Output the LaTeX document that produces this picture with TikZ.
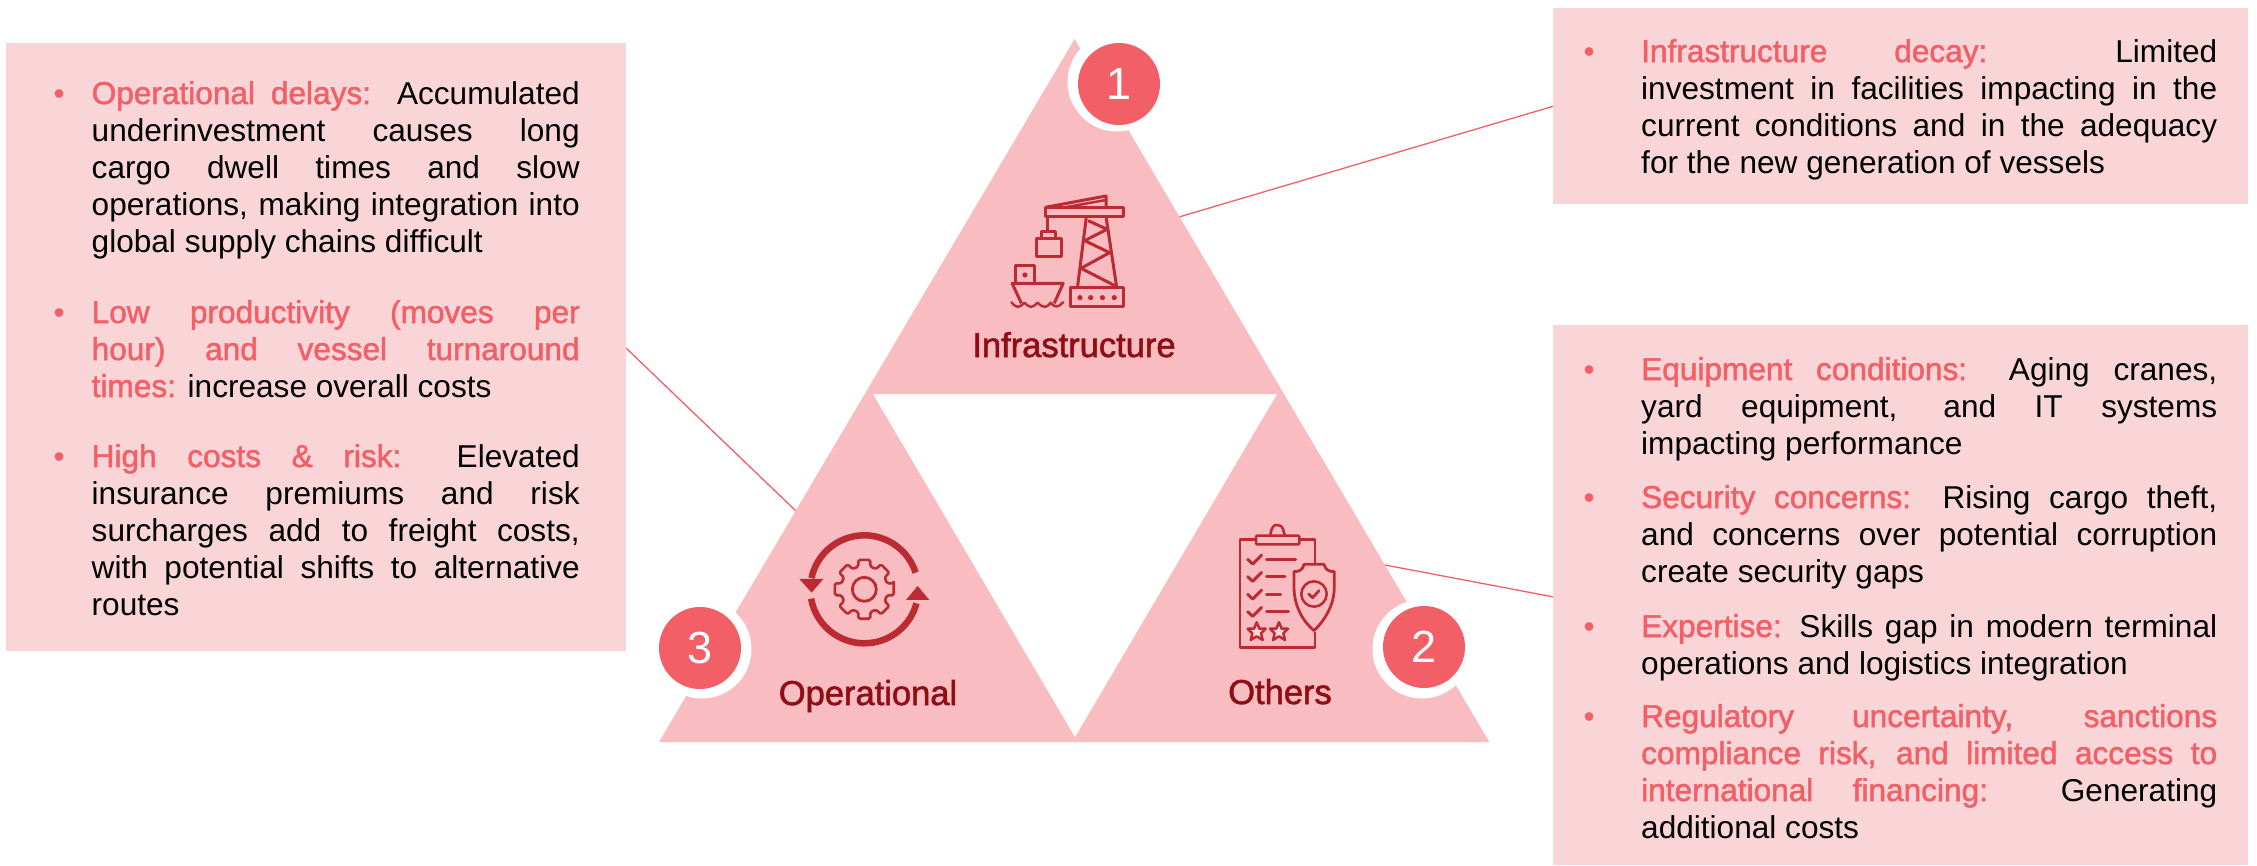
\documentclass[tikz,border=0pt]{standalone}
\usepackage{fontspec}
\setmainfont{Liberation Sans}
\newfontfamily\medfont[FakeBold=1.6]{Liberation Sans}
\definecolor{coral}{HTML}{F25F67}
\definecolor{boxpink}{HTML}{F9D5D8}
\definecolor{tripink}{HTML}{F8BCC1}
\definecolor{darkred}{HTML}{8F0D15}
\definecolor{iconred}{HTML}{BC2A33}
\newcommand{\hd}[1]{\textcolor{coral}{\medfont #1}}
\newcommand{\para}[3]{\parbox[t]{#1}{\fontsize{31.6}{37}\selectfont\tolerance=9999\emergencystretch=200pt\hyphenpenalty=10000\leavevmode\llap{\textcolor{coral}{•}\hspace{#2}}#3}}
\tikzset{
  panel/.style={fill=boxpink,draw=none,inner sep=0,anchor=north west},
  txt/.style={inner sep=0,anchor=base west,text=black},
  tag/.style={circle,fill=coral,minimum size=82pt,inner sep=0,text=white,font=\fontsize{45}{45}\selectfont},
  ring/.style={circle,fill=white,minimum size=99pt,inner sep=0},
  lbl/.style={inner sep=0,anchor=base,text=darkred,font=\fontsize{34.5}{34.5}\selectfont\medfont},
  link/.style={draw=coral,line width=1.3pt},
  ico/.style={draw=iconred,line width=3pt,line join=round},
  icothin/.style={draw=iconred,line width=2.4pt,line join=round,line cap=round},
}
\begin{document}
\begin{tikzpicture}[x=1pt,y=-1pt]
\useasboundingbox (0,0) rectangle (2257,865);
% connector end points
\coordinate (cA1) at (626,348);
\coordinate (cA2) at (796,511);
\coordinate (cB1) at (1179,217);
\coordinate (cB2) at (1554,106);
\coordinate (cC1) at (1385,565);
\coordinate (cC2) at (1554,597);
\draw[link] (cA1) -- (cA2);
\draw[link] (cB1) -- (cB2);
\draw[link] (cC1) -- (cC2);
% panels
\node[panel,minimum width=620pt,minimum height=608pt] (panelL) at (6,43) {};
\node[panel,minimum width=695pt,minimum height=196pt] (panelT) at (1553,8) {};
\node[panel,minimum width=695pt,minimum height=540pt] (panelB) at (1553,325) {};
% triangle
\coordinate (tA) at (1074.6,39);
\coordinate (tL) at (659,742);
\coordinate (tR) at (1489.3,742);
\coordinate (wL) at (873,394);
\coordinate (wR) at (1277,394);
\coordinate (wB) at (1075,737);
\fill[tripink] (tA) -- (tR) -- (tL) -- cycle;
\fill[white] (wL) -- (wR) -- (wB) -- cycle;
% number tags
\node[ring] (r1) at (1117,82) {};
\node[ring] (r2) at (1422,649) {};
\node[ring] (r3) at (702,649) {};
\node[tag] (n1) at (1119,84) {1};
\node[tag] (n2) at (1424,647) {2};
\node[tag] (n3) at (700,648) {3};
% labels
\node[lbl] (lInfra) at (1074,357) {Infrastructure};
\node[lbl] (lOper) at (868,705) {Operational};
\node[lbl] (lOth) at (1280,704) {Others};
% left panel text
\node[txt] (a1) at (91.5,104) {\para{488pt}{27pt}{\hd{Operational delays:} Accumulated\linebreak underinvestment causes long\linebreak cargo dwell times and slow\linebreak operations, making integration into\linebreak global supply chains difficult}};
\node[txt] (a2) at (91.5,323) {\para{488pt}{27pt}{\hd{Low productivity (moves per\linebreak hour) and vessel turnaround\linebreak times:} increase overall costs}};
\node[txt] (a3) at (91.5,467) {\para{488pt}{27pt}{\hd{High costs \& risk:} Elevated\linebreak insurance premiums and risk\linebreak surcharges add to freight costs,\linebreak with potential shifts to alternative\linebreak routes}};
% top right text
\node[txt] (b1) at (1641,62) {\para{576pt}{46.5pt}{\hd{Infrastructure decay:} Limited\linebreak investment in facilities impacting in the\linebreak current conditions and in the adequacy\linebreak for the new generation of vessels}};
% bottom right text
\node[txt] (c1) at (1641,380) {\para{576pt}{46.5pt}{\hd{Equipment conditions:} Aging cranes,\linebreak yard equipment, and IT systems\linebreak impacting performance}};
\node[txt] (c2) at (1641,508) {\para{576pt}{46.5pt}{\hd{Security concerns:} Rising cargo theft,\linebreak and concerns over potential corruption\linebreak create security gaps}};
\node[txt] (c3) at (1641,637) {\para{576pt}{46.5pt}{\hd{Expertise:} Skills gap in modern terminal\linebreak operations and logistics integration}};
\node[txt] (c4) at (1641,727) {\para{576pt}{46.5pt}{\hd{Regulatory uncertainty, sanctions\linebreak compliance risk, and limited access to\linebreak international financing:} Generating\linebreak additional costs}};
% crane icon
\begin{scope}[shift={(640,20)},x=0.3571pt,y=-0.3333pt]
\draw[ico] (1135,562) rectangle (1353,590);
\draw[ico] (1135,562) -- (1305,528) -- (1305,562);
\draw[icothin] (1190,562) -- (1305,540);
\draw[ico] (1142,590) -- (1142,635);
\draw[ico] (1125,657) -- (1125,635) -- (1163,635) -- (1163,657);
\draw[ico] (1110,657) rectangle (1180,710);
\draw[ico] (1250,590) -- (1225,803);
\draw[ico] (1305,590) -- (1335,803);
\draw[ico] (1255,602) -- (1308,628) -- (1245,662) -- (1315,698) -- (1235,745) -- (1335,800);
\draw[ico] (1205,803) rectangle (1353,860);
\foreach \px in {1232,1262,1295,1328}
  \fill[iconred] (\px,833) circle[radius=2.6pt];
\draw[ico] (1068,850) -- (1042,790) -- (1185,790) -- (1160,850);
\draw[ico] (1052,790) -- (1052,738) -- (1105,738) -- (1105,790);
\fill[iconred] (1078,765) circle[radius=2.6pt];
\draw[icothin] (1040,847) .. controls (1055,865) and (1060,865) .. (1077,848) .. controls (1092,865) and (1098,865) .. (1113,848) .. controls (1130,865) and (1138,865) .. (1150,848) .. controls (1162,865) and (1172,862) .. (1185,847);
\end{scope}
% gear icon
\begin{scope}[shift={(864.3,589.3)}]
\draw[iconred,line width=6.5pt] (18:54pt) arc[start angle=18,end angle=168,radius=54pt];
\draw[iconred,line width=6.5pt] (190:54pt) arc[start angle=190,end angle=345,radius=54pt];
\end{scope}
\begin{scope}[shift={(640,480)},x=0.3333pt,y=-0.3333pt]
\fill[iconred] (515,338) -- (478,297) -- (550,297) -- cycle;
\fill[iconred] (833,318) -- (798,360) -- (868,360) -- cycle;
\end{scope}
\begin{scope}[shift={(864.3,589.3)}]
\draw[icothin,line width=2.6pt,rounded corners=1.5pt] (11.25:30pt)
  foreach \k in {0,45,...,315} {
    -- ({\k+11.25}:30pt) -- ({\k+15}:23.5pt) -- ({\k+30}:23.5pt) -- ({\k+33.75}:30pt)
  } -- cycle;
\draw[icothin,line width=2.8pt] (0,0) circle[radius=12pt];
\end{scope}
% clipboard icon
\begin{scope}[shift={(1180,490)},x=0.3333pt,y=-0.3333pt]
\draw[ico,line width=2.5pt] (405,222) -- (405,148) -- (180,148) -- (180,472) -- (405,472) -- (405,425);
\draw[ico,line width=2.5pt,fill=tripink,rounded corners=1pt] (228,137) rectangle (358,163);
\draw[ico,line width=2.5pt] (270,137) .. controls (275,125) and (272,105) .. (292,105) .. controls (312,105) and (309,125) .. (315,137);
\foreach \yy/\xe in {208/347,260/315,313/302,365/325}{
  \draw[icothin,line width=3pt] (203,\yy) -- (218,\yy+14) -- (245,\yy-13);
  \draw[icothin,line width=3pt] (260,\yy) -- (\xe,\yy);
}
\foreach \sx in {230,297}{
  \draw[ico,line width=2.5pt,fill=tripink!60!white] (\sx,397) -- (\sx+8,416) -- (\sx+27,416) -- (\sx+13,430) -- (\sx+18,450) -- (\sx,439) -- (\sx-18,450) -- (\sx-13,430) -- (\sx-27,416) -- (\sx-8,416) -- cycle;
}
\draw[ico,line width=2.8pt,fill=tripink] (342,245) .. controls (358,245) and (368,240) .. (372,223) -- (432,223) .. controls (437,240) and (447,245) .. (463,245) -- (463,290) .. controls (463,350) and (430,395) .. (402,422) .. controls (370,395) and (342,350) .. (342,290) -- cycle;
\draw[ico,line width=2.5pt] (402,312) circle[radius=12.7pt];
\draw[icothin,line width=2.8pt] (386,312) -- (398,323) -- (417,302);
\end{scope}
\end{tikzpicture}
\end{document}
